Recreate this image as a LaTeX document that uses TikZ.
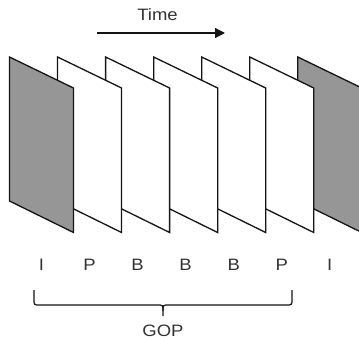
\documentclass[tikz,border=0pt]{standalone}
\usepackage{fontspec}
\usepackage{graphicx}
\setmainfont{Liberation Sans}
\usetikzlibrary{arrows.meta}
\definecolor{frameGray}{HTML}{969696}
\definecolor{lineCol}{HTML}{141414}
\tikzset{
  frameline/.style={draw=lineCol, line width=1.3pt, line join=miter},
  iframe/.style={frameline, fill=frameGray},
  pframe/.style={frameline, fill=white},
  lbl/.style={font=\fontsize{16.5}{19}\selectfont, text=black!80, inner sep=0pt},
}
\newcommand{\wtxt}[1]{\scalebox{1.12}[1]{#1}}
\begin{document}
\begin{tikzpicture}[x=1pt,y=-1pt]
\useasboundingbox (0,0) rectangle (359,340);
\clip (0,0) rectangle (359,340);
% frames, drawn back to front
\foreach \i/\st in {6/iframe,5/pframe,4/pframe,3/pframe,2/pframe,1/pframe,0/iframe}{
  \pgfmathsetmacro{\xl}{9.5+48.05*\i}
  \draw[\st] (\xl,57) -- (\xl+64,88) -- (\xl+64,232.5) -- (\xl,201) -- cycle;
}
% labels
\node[lbl] (l0) at (41.5,265) {\wtxt{I}};
\node[lbl] (l1) at (89.5,265) {\wtxt{P}};
\node[lbl] (l2) at (137.6,265) {\wtxt{B}};
\node[lbl] (l3) at (185.6,265) {\wtxt{B}};
\node[lbl] (l4) at (233.7,265) {\wtxt{B}};
\node[lbl] (l5) at (281.7,265) {\wtxt{P}};
\node[lbl] (l6) at (329.8,265) {\wtxt{I}};
% time arrow
\node[lbl] (time) at (157.5,15) {\wtxt{Time}};
\coordinate (ta) at (97,33);
\coordinate (tb) at (225,33);
\draw[lineCol, line width=1.3pt, -{Triangle[length=10pt,width=10pt]}] (ta) -- (tb);
% brace
\draw[lineCol, line width=1.2pt] (34,290) -- (34,299) .. controls (34,305) .. (40,305) -- (157,305)
  .. controls (163,305) .. (163,311) -- (163,316);
\draw[lineCol, line width=1.2pt] (292,290) -- (292,299) .. controls (292,305) .. (286,305) -- (169,305)
  .. controls (163,305) .. (163,311);
\node[lbl] (gop) at (163,331) {\wtxt{GOP}};
\end{tikzpicture}
\end{document}
